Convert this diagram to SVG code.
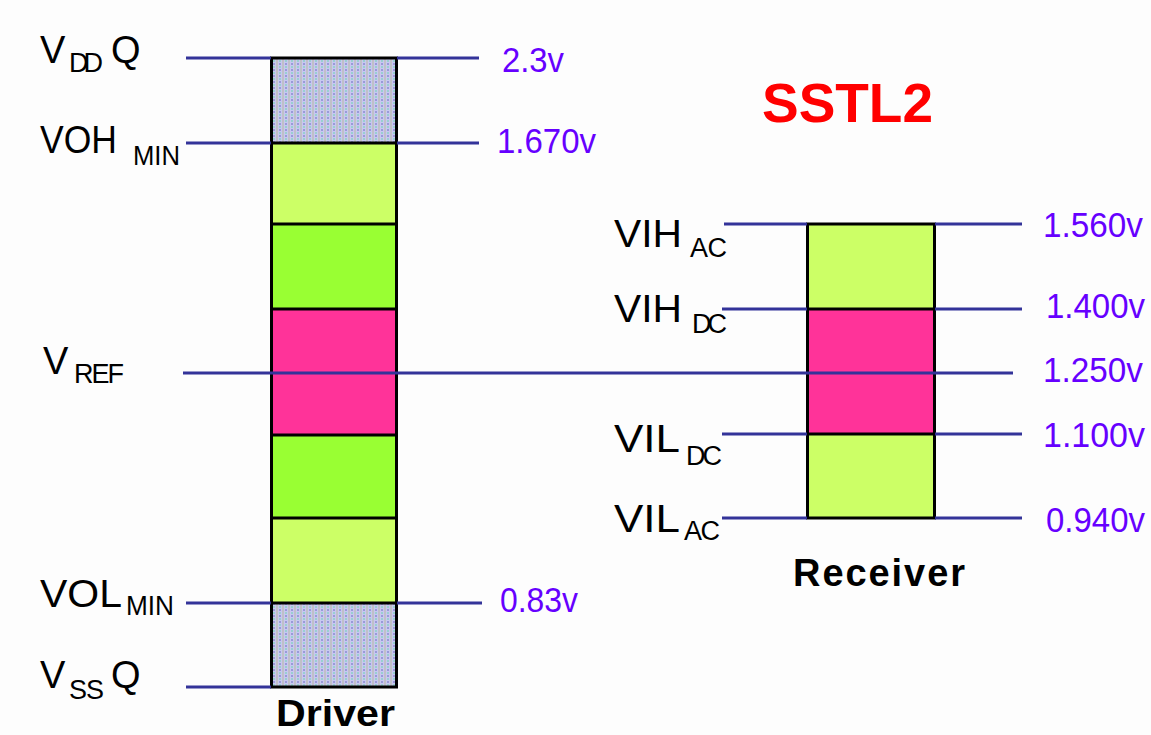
<svg xmlns="http://www.w3.org/2000/svg" width="1151" height="735" viewBox="0 0 1151 735">
<style>
.lbl{font-family:"Liberation Sans",Arial,sans-serif;font-size:38px;fill:#000}
.sub{font-family:"Liberation Sans",Arial,sans-serif;font-size:27px;fill:#000}
.val{font-family:"Liberation Sans",Arial,sans-serif;font-size:35px;fill:#6600ff}
.ttl{font-family:"Liberation Sans",Arial,sans-serif;font-weight:bold;fill:#000;font-size:38px}
.ln{stroke:#333399;stroke-width:3;fill:none}
.box{stroke:#000;stroke-width:3;fill:none}
</style>
<defs>
<pattern id="dots" width="6" height="6" patternUnits="userSpaceOnUse">
<rect width="6" height="6" fill="#c8c8f0"/>
<rect x="0" y="0" width="2" height="6" fill="#c0c0c8"/>
<rect x="3" y="0" width="2" height="2" fill="#99d0d0"/>
<rect x="3" y="3" width="2" height="2" fill="#9a9ad8"/>
</pattern>
</defs>
<rect width="1151" height="735" fill="#fdfdfd"/>

<g id="driver">
<rect x="271" y="58" width="126" height="85" fill="url(#dots)"/>
<rect x="271" y="143" width="126" height="81" fill="#ccff66"/>
<rect x="271" y="224" width="126" height="85" fill="#99ff33"/>
<rect x="271" y="309" width="126" height="126" fill="#ff3399"/>
<rect x="271" y="435" width="126" height="83" fill="#99ff33"/>
<rect x="271" y="518" width="126" height="85" fill="#ccff66"/>
<rect x="271" y="603" width="126" height="84" fill="url(#dots)"/>
<g stroke="#000" stroke-width="3">
<line x1="271" y1="143" x2="397" y2="143"/>
<line x1="271" y1="224" x2="397" y2="224"/>
<line x1="271" y1="309" x2="397" y2="309"/>
<line x1="271" y1="435" x2="397" y2="435"/>
<line x1="271" y1="518" x2="397" y2="518"/>
<line x1="271" y1="603" x2="397" y2="603"/>
</g>
<rect class="box" x="271.5" y="58" width="125" height="629"/>
<text class="ttl" x="276" y="726" font-size="36" textLength="119" lengthAdjust="spacingAndGlyphs" style="font-size:36px">Driver</text>
</g>

<g id="receiver">
<rect x="807" y="224" width="128" height="85" fill="#ccff66"/>
<rect x="807" y="309" width="128" height="125" fill="#ff3399"/>
<rect x="807" y="434" width="128" height="84" fill="#ccff66"/>
<g stroke="#000" stroke-width="3">
<line x1="807" y1="309" x2="935" y2="309"/>
<line x1="807" y1="434" x2="935" y2="434"/>
</g>
<rect class="box" x="807.5" y="224" width="127" height="294"/>
<text class="ttl" x="793" y="586" textLength="172" lengthAdjust="spacing">Receiver</text>
</g>

<g id="title">
<text x="762" y="122" font-family="Liberation Sans, Arial, sans-serif" font-weight="bold" font-size="56" fill="#ff0000" textLength="171" lengthAdjust="spacingAndGlyphs">SSTL2</text>
</g>

<g id="connectors">
<line class="ln" x1="186" y1="58" x2="271" y2="58"/>
<line class="ln" x1="397" y1="58" x2="479" y2="58"/>
<line class="ln" x1="186" y1="143" x2="271" y2="143"/>
<line class="ln" x1="397" y1="143" x2="479" y2="143"/>
<line class="ln" x1="183" y1="373" x2="1013" y2="373"/>
<line class="ln" x1="186" y1="603" x2="271" y2="603"/>
<line class="ln" x1="397" y1="603" x2="482" y2="603"/>
<line class="ln" x1="186" y1="687" x2="271" y2="687"/>
<line class="ln" x1="724" y1="224" x2="807" y2="224"/>
<line class="ln" x1="935" y1="224" x2="1022" y2="224"/>
<line class="ln" x1="722" y1="309" x2="807" y2="309"/>
<line class="ln" x1="935" y1="309" x2="1022" y2="309"/>
<line class="ln" x1="722" y1="434" x2="807" y2="434"/>
<line class="ln" x1="935" y1="434" x2="1022" y2="434"/>
<line class="ln" x1="722" y1="518" x2="807" y2="518"/>
<line class="ln" x1="935" y1="518" x2="1022" y2="518"/>
</g>

<g id="driver-labels">
<text class="lbl" x="40" y="63">V</text><text class="sub" x="69" y="72" textLength="34" lengthAdjust="spacing">DD</text><text class="lbl" x="111" y="63">Q</text>
<text class="lbl" x="40" y="153" textLength="77" lengthAdjust="spacingAndGlyphs">VOH</text><text class="sub" x="133" y="165" textLength="47" lengthAdjust="spacingAndGlyphs">MIN</text>
<text class="lbl" x="43" y="374">V</text><text class="sub" x="74" y="383" textLength="50" lengthAdjust="spacing">REF</text>
<text class="lbl" x="40" y="607" textLength="82" lengthAdjust="spacingAndGlyphs">VOL</text><text class="sub" x="126" y="615" textLength="48" lengthAdjust="spacingAndGlyphs">MIN</text>
<text class="lbl" x="40" y="688">V</text><text class="sub" x="69" y="699" textLength="35" lengthAdjust="spacing">SS</text><text class="lbl" x="111" y="688">Q</text>
</g>

<g id="receiver-labels">
<text class="lbl" x="614" y="247" textLength="68" lengthAdjust="spacingAndGlyphs">VIH</text><text class="sub" x="690" y="257" textLength="37" lengthAdjust="spacing">AC</text>
<text class="lbl" x="614" y="322" textLength="68" lengthAdjust="spacingAndGlyphs">VIH</text><text class="sub" x="692" y="333" textLength="35" lengthAdjust="spacing">DC</text>
<text class="lbl" x="614" y="452" textLength="66" lengthAdjust="spacingAndGlyphs">VIL</text><text class="sub" x="686" y="465" textLength="36" lengthAdjust="spacing">DC</text>
<text class="lbl" x="614" y="532" textLength="66" lengthAdjust="spacingAndGlyphs">VIL</text><text class="sub" x="684" y="540" textLength="36" lengthAdjust="spacing">AC</text>
</g>

<g id="values">
<text class="val" x="502" y="72" textLength="62" lengthAdjust="spacingAndGlyphs">2.3v</text>
<text class="val" x="497" y="153" textLength="99" lengthAdjust="spacingAndGlyphs">1.670v</text>
<text class="val" x="500" y="612" textLength="78" lengthAdjust="spacingAndGlyphs">0.83v</text>
<text class="val" x="1043" y="237" textLength="100" lengthAdjust="spacingAndGlyphs">1.560v</text>
<text class="val" x="1046" y="318" textLength="99" lengthAdjust="spacingAndGlyphs">1.400v</text>
<text class="val" x="1043" y="382" textLength="100" lengthAdjust="spacingAndGlyphs">1.250v</text>
<text class="val" x="1043" y="447" textLength="102" lengthAdjust="spacingAndGlyphs">1.100v</text>
<text class="val" x="1046" y="532" textLength="99" lengthAdjust="spacingAndGlyphs">0.940v</text>
</g>
</svg>
